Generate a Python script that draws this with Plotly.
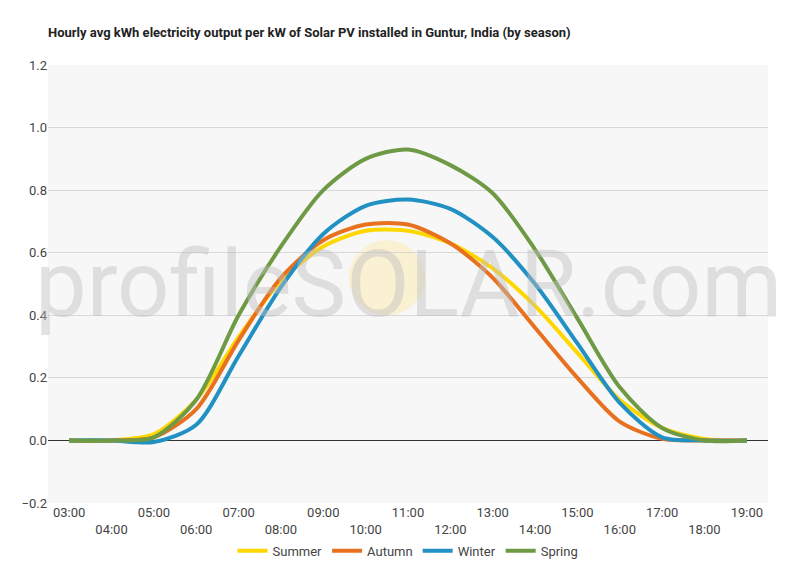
import plotly.graph_objects as go

hours = ["03:00","04:00","05:00","06:00","07:00","08:00","09:00","10:00","11:00","12:00","13:00","14:00","15:00","16:00","17:00","18:00","19:00"]
summer = [0,0,0.02,0.13,0.33,0.51,0.62,0.67,0.67,0.63,0.55,0.43,0.28,0.13,0.04,0.005,0]
autumn = [0,0,0.01,0.10,0.32,0.52,0.64,0.69,0.69,0.63,0.52,0.36,0.20,0.06,0.005,0,0]
winter = [0,0,-0.005,0.05,0.27,0.49,0.66,0.75,0.77,0.74,0.65,0.50,0.31,0.12,0.01,0,0]
spring = [0,0,0.01,0.13,0.40,0.62,0.80,0.90,0.93,0.88,0.79,0.61,0.39,0.17,0.04,0,0]

series = [("Summer", summer, "#ffd700"), ("Autumn", autumn, "#e8711f"),
          ("Winter", winter, "#2191c4"), ("Spring", spring, "#6f9a45")]

x = list(range(len(hours)))
fig = go.Figure()
for name, vals, col in series:
    fig.add_trace(go.Scatter(x=x, y=vals, name=name, mode="lines",
                             line=dict(color=col, width=4, shape="spline", smoothing=0.8)))

ticktext = [h if i % 2 == 0 else "<br>" + h for i, h in enumerate(hours)]
fig.update_layout(
    width=800, height=570, paper_bgcolor="white", plot_bgcolor="#f7f7f7",
    font=dict(family="Roboto", size=13, color="#444"),
    title=dict(text="<b>Hourly avg kWh electricity output per kW of Solar PV installed in Guntur, India (by season)</b>",
               x=0.05, y=0.965, font=dict(size=13, color="#222")),
    margin=dict(l=40, r=40, t=57, b=58),
    legend=dict(orientation="h", x=0.5, xanchor="center", y=-0.075, yanchor="top",
                font=dict(size=13)),
    xaxis=dict(tickvals=x, ticktext=ticktext, range=[-0.5, 16.5], showgrid=False,
               tickangle=0, zeroline=False),
    yaxis=dict(range=[-0.2, 1.2], dtick=0.2, tickformat=".1f", gridcolor="#d8d8d8",
               zeroline=True, zerolinecolor="#333", zerolinewidth=1),
)
fig.add_shape(type="circle", xref="x", yref="y", x0=6.6, x1=8.4, y0=0.40, y1=0.64,
              fillcolor="rgba(255,225,140,0.35)", line=dict(width=0), layer="below")
fig.add_annotation(text="profileSOLAR.com", xref="paper", yref="y", x=0.5, y=0.5,
                   showarrow=False, font=dict(size=92, color="rgba(190,190,190,0.45)", family="Roboto"))
fig.write_html("out.html")
